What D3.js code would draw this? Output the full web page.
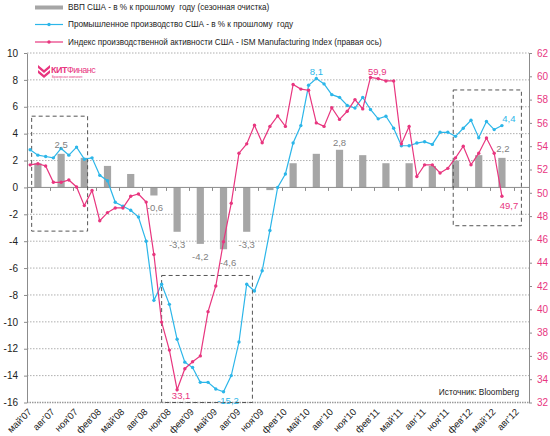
<!DOCTYPE html>
<html><head><meta charset="utf-8">
<script src="https://cdn.jsdelivr.net/npm/d3@7"></script>
<style>
body{margin:0;background:#fff}
svg{display:block;font-family:"Liberation Sans",Arial,sans-serif}
.pre{white-space:pre}
</style>
</head><body>
<svg id="c" width="550" height="436"></svg>
<script>
const months = [
 "май'07","июн'07","июл'07","авг'07","сен'07","окт'07","ноя'07","дек'07",
 "янв'08","фев'08","мар'08","апр'08","май'08","июн'08","июл'08","авг'08","сен'08","окт'08","ноя'08","дек'08",
 "янв'09","фев'09","мар'09","апр'09","май'09","июн'09","июл'09","авг'09","сен'09","окт'09","ноя'09","дек'09",
 "янв'10","фев'10","мар'10","апр'10","май'10","июн'10","июл'10","авг'10","сен'10","окт'10","ноя'10","дек'10",
 "янв'11","фев'11","мар'11","апр'11","май'11","июн'11","июл'11","авг'11","сен'11","окт'11","ноя'11","дек'11",
 "янв'12","фев'12","мар'12","апр'12","май'12","июн'12","июл'12","авг'12","сен'12"
];
const tickLabels = [
 "май'07","авг'07","ноя'07","фев'08","май'08","авг'08","ноя'08","фев'09","май'09","авг'09","ноя'09",
 "фев'10","май'10","авг'10","ноя'10","фев'11","май'11","авг'11","ноя'11","фев'12","май'12","авг'12"
];
const leftTicks = [-16,-14,-12,-10,-8,-6,-4,-2,0,2,4,6,8,10];
const rightTicks = [32,34,36,38,40,42,44,46,48,50,52,54,56,58,60,62];

// ВВП, квартальные значения (последний месяц квартала)
const gdpMonths = ["июн'07","сен'07","дек'07","мар'08","июн'08","сен'08","дек'08","мар'09","июн'09","сен'09","дек'09",
 "мар'10","июн'10","сен'10","дек'10","мар'11","июн'11","сен'11","дек'11","мар'12","июн'12"];
const gdpValues = [1.8,2.5,2.2,1.6,1.0,-0.6,-3.3,-4.2,-4.6,-3.3,-0.2,1.8,2.5,2.8,2.4,1.8,1.8,1.6,2.0,2.4,2.2];

// Промышленное производство, % г/г, с май'07 по июн'12
const ipValues = [2.8,2.4,2.3,2.2,2.9,2.4,3.0,2.1,2.2,0.9,0.5,-1.1,-1.4,-1.7,-2.2,-4.0,-8.4,-7.2,-8.7,-11.3,
 -13.0,-13.4,-14.5,-14.5,-15.0,-15.2,-14.0,-11.5,-7.2,-7.7,-6.2,-3.2,0.0,1.0,3.3,4.6,7.6,8.1,7.7,6.9,
 6.7,6.1,5.9,6.7,5.8,5.1,5.3,4.4,3.1,3.1,3.3,3.4,3.2,4.1,4.1,3.8,4.4,5.0,3.7,4.9,4.3,4.6];

// ISM Manufacturing Index, с май'07 по июн'12
const ismValues = [52.4,52.5,52.3,50.9,50.9,51.1,50.5,48.9,50.2,47.6,48.3,48.7,48.7,49.7,49.9,49.2,44.7,38.9,36.5,33.1,
 34.9,35.5,36.0,39.8,42.0,45.8,49.1,53.4,54.2,55.8,54.3,55.7,56.6,55.7,59.3,58.9,58.8,56.0,55.7,57.3,
 56.3,57.0,58.0,57.2,59.9,59.8,59.6,59.6,54.2,55.7,51.4,52.4,52.4,51.7,52.1,53.0,54.0,52.4,53.4,54.7,53.4,49.7];

const legendLabels = [
 "ВВП США - в % к прошлому  году (сезонная очистка)",
 "Промышленное производство США - в % к прошлому  году",
 "Индекс производственной активности США - ISM Manufacturing Index (правая ось)"
];

const valueLabels = [
 {text:"2,5", month:"сен'07", v:2.5, axis:"L", dx:0, dy:-9, color:"#7f7f7f"},
 {text:"-0,6", month:"сен'08", v:-0.6, axis:"L", dx:1, dy:12.5, color:"#7f7f7f"},
 {text:"-3,3", month:"дек'08", v:-3.3, axis:"L", dx:0, dy:13, color:"#7f7f7f"},
 {text:"-4,2", month:"мар'09", v:-4.2, axis:"L", dx:0, dy:13, color:"#7f7f7f"},
 {text:"-4,6", month:"июн'09", v:-4.6, axis:"L", dx:4.5, dy:13, color:"#7f7f7f"},
 {text:"-3,3", month:"сен'09", v:-3.3, axis:"L", dx:0, dy:13, color:"#7f7f7f"},
 {text:"2,8", month:"сен'10", v:2.8, axis:"L", dx:0, dy:-7, color:"#7f7f7f"},
 {text:"2,2", month:"июн'12", v:2.2, axis:"L", dx:1, dy:-9, color:"#7f7f7f"},
 {text:"8,1", month:"июн'10", v:8.1, axis:"L", dx:0, dy:-7, color:"#2cb6e9"},
 {text:"4,4", month:"июн'12", v:4.6, axis:"L", dx:7, dy:-6.5, color:"#2cb6e9"},
 {text:"-15,2", month:"июн'09", v:-15.2, axis:"L", dx:4.5, dy:8.5, color:"#2cb6e9"},
 {text:"59,9", month:"фев'11", v:59.8, axis:"R", dx:-1, dy:-6.5, color:"#e8367f"},
 {text:"33,1", month:"дек'08", v:33.1, axis:"R", dx:4, dy:5.5, color:"#e8367f"},
 {text:"49,7", month:"июн'12", v:49.7, axis:"R", dx:7, dy:9, color:"#e8367f"}
];

const boxes = [
 {from:"май'07", to:"дек'07", top:5.3, bottom:-3.25, dxl:1.5, dxr:3.3},
 {from:"окт'08", to:"сен'09", top:-6.55, bottom:-16, dxl:0, dxr:5.7},
 {from:"дек'11", to:"авг'12", top:7.25, bottom:-2.85, dxl:-2.3, dxr:4}
];

const BLUE = "#2cb6e9", PINK = "#e8367f", GREY = "#a6a6a6";
const svg = d3.select("#c");
const L = 27, R = 529, T = 53, B = 402.5;

const x = d3.scaleBand().domain(months).range([26.3, R]).paddingInner(0).paddingOuter(0);
const cx = m => x(m) + x.bandwidth() / 2;
const yL = d3.scaleLinear().domain([-16, 10]).range([B, T]);
const yR = d3.scaleLinear().domain([32, 62]).range([B, T]);

// grid
svg.append("g").selectAll("line").data(leftTicks.filter(v => v !== 0)).join("line")
  .attr("x1", L).attr("x2", R).attr("y1", d => yL(d)).attr("y2", d => yL(d))
  .attr("stroke", "#9a9a9a").attr("stroke-width", d => d === -16 ? 1.6 : 0.8)
  .attr("stroke-dasharray", d => d === -16 ? "1.5,1" : "1.5,1.5");

// bars
svg.append("g").selectAll("rect").data(gdpValues).join("rect")
  .attr("x", (d, i) => cx(gdpMonths[i]) - 3.6)
  .attr("width", 7.2)
  .attr("y", d => Math.min(yL(d), yL(0)))
  .attr("height", d => Math.abs(yL(d) - yL(0)))
  .attr("fill", GREY);

// zero line
svg.append("line").attr("x1", L).attr("x2", R).attr("y1", yL(0)).attr("y2", yL(0))
  .attr("stroke", "#8c8c8c").attr("stroke-width", 1);
svg.append("g").selectAll("line").data(tickLabels.slice(1)).join("line")
  .attr("x1", d => Math.round(x(d)) + 0.5).attr("x2", d => Math.round(x(d)) + 0.5)
  .attr("y1", yL(0)).attr("y2", yL(0) + 3.5)
  .attr("stroke", "#8c8c8c").attr("stroke-width", 1);

// axes
const axL = svg.append("g").attr("transform", `translate(${L},0)`)
  .call(d3.axisLeft(yL).tickValues(leftTicks).tickSize(3).tickSizeOuter(0).tickPadding(6)
    .tickFormat(d => d));
axL.select(".domain").attr("stroke", "#8c8c8c");
axL.selectAll(".tick line").attr("stroke", "#8c8c8c");
axL.selectAll("text").attr("fill", "#222").attr("font-size", "10px").attr("font-family", "Liberation Sans, Arial, sans-serif");

const axR = svg.append("g").attr("transform", `translate(${R},0)`)
  .call(d3.axisRight(yR).tickValues(rightTicks).tickSize(3).tickSizeOuter(0).tickPadding(5));
axR.select(".domain").attr("stroke", "#8c8c8c");
axR.selectAll(".tick line").attr("stroke", "#8c8c8c");
axR.selectAll("text").attr("fill", PINK).attr("font-size", "10px").attr("font-family", "Liberation Sans, Arial, sans-serif");

const axB = svg.append("g").attr("transform", `translate(0,${B})`)
  .call(d3.axisBottom(x).tickValues(tickLabels).tickSize(0).tickSizeOuter(0));
axB.select(".domain").remove();
axB.selectAll("text").attr("x", 0).attr("y", 0).attr("dy", 0)
  .attr("transform", "translate(2,10) rotate(-45)")
  .attr("text-anchor", "end").attr("fill", "#222").attr("font-size", "9.5px")
  .attr("font-family", "Liberation Sans, Arial, sans-serif");

// dashed boxes
svg.append("g").selectAll("rect").data(boxes).join("rect")
  .attr("x", d => cx(d.from) + d.dxl)
  .attr("y", d => yL(d.top))
  .attr("width", d => cx(d.to) + d.dxr - cx(d.from) - d.dxl)
  .attr("height", d => yL(d.bottom) - yL(d.top))
  .attr("fill", "none").attr("stroke", "#555").attr("stroke-width", 1)
  .attr("stroke-dasharray", "4,3");

// lines
function drawSeries(vals, y, color) {
  const pts = vals.map((v, i) => [cx(months[i]), y(v)]);
  svg.append("path").attr("d", d3.line()(pts)).attr("fill", "none")
    .attr("stroke", color).attr("stroke-width", 1.2);
  svg.append("g").selectAll("circle").data(pts).join("circle")
    .attr("cx", d => d[0]).attr("cy", d => d[1]).attr("r", 1.7).attr("fill", color);
}
drawSeries(ipValues, yL, BLUE);
drawSeries(ismValues, yR, PINK);

// value labels
svg.append("g").selectAll("text").data(valueLabels).join("text")
  .attr("x", d => cx(d.month) + d.dx)
  .attr("y", d => (d.axis === "L" ? yL(d.v) : yR(d.v)) + d.dy)
  .attr("dy", "0.35em").attr("text-anchor", "middle")
  .attr("font-size", "9.5px").attr("fill", d => d.color)
  .text(d => d.text);

// legend
const lg = svg.append("g");
const lys = [7.5, 24.5, 42];
lg.append("rect").attr("x", 35).attr("y", lys[0] - 2).attr("width", 28).attr("height", 4).attr("fill", GREY);
[[BLUE, lys[1]], [PINK, lys[2]]].forEach(([c, y]) => {
  lg.append("line").attr("x1", 35).attr("x2", 63).attr("y1", y).attr("y2", y).attr("stroke", c).attr("stroke-width", 1.2);
  lg.append("circle").attr("cx", 49).attr("cy", y).attr("r", 1.7).attr("fill", c);
});
lg.selectAll("text").data(legendLabels).join("text")
  .attr("class", "pre")
  .attr("x", 68).attr("y", (d, i) => lys[i]).attr("dy", "0.35em")
  .attr("font-size", "8.2px").attr("fill", "#1a1a1a").text(d => d);

// source
svg.append("text").attr("x", 519).attr("y", 392).attr("dy", "0.35em").attr("text-anchor", "end")
  .attr("font-size", "8.3px").attr("fill", "#1a1a1a").text("Источник: Bloomberg");

// logo
const logo = svg.append("g").attr("transform", "translate(38,65)");
logo.append("path").attr("d", "M0,0 L6,5 L12,0 L12,3 L6,8 L0,3 Z").attr("fill", PINK);
logo.append("path").attr("d", "M0,5 L6,10 L12,5 L12,8 L6,13 L0,8 Z").attr("fill", PINK);
logo.append("text").attr("x", 13).attr("y", 8).attr("font-size", "9px").attr("font-weight", "bold")
  .attr("fill", PINK).attr("letter-spacing", "-0.5").text("КИТ")
  .append("tspan").attr("font-weight", "normal").text("Финанс");
logo.append("text").attr("x", 14).attr("y", 12.5).attr("font-size", "3px").attr("fill", PINK).text("Брокерская компания");
</script>
</body></html>
